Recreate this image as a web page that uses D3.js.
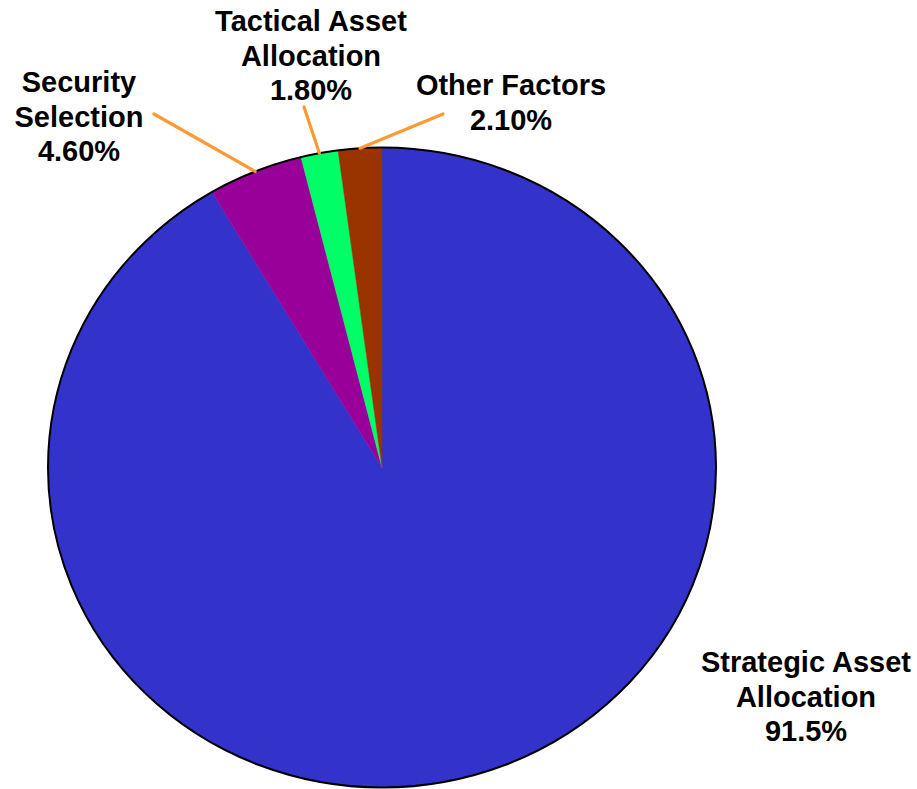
<!DOCTYPE html>
<html>
<head>
<meta charset="utf-8">
<script src="https://cdn.jsdelivr.net/npm/d3@7/dist/d3.min.js"></script>
<style>
  html, body { margin: 0; padding: 0; background: #fff; }
  svg { display: block; }
</style>
</head>
<body>
<script>
const categories = ["Strategic Asset Allocation", "Security Selection", "Tactical Asset Allocation", "Other Factors"];
const values = [91.5, 4.6, 1.8, 2.1];
const valueLabels = ["91.5%", "4.60%", "1.80%", "2.10%"];
const labelLines = [["Strategic Asset", "Allocation"], ["Security", "Selection"], ["Tactical Asset", "Allocation"], ["Other Factors"]];
const colors = ["#3333CC", "#990099", "#00FF66", "#993300"];

const W = 917, H = 789;
const cx = 382, cy = 467.5, rx = 334, ry = 320;
const fontSize = 29, lineH = 34.5;

// label anchor (centre x, first baseline y) and leader-line outer end
const labelPos = [
  { x: 806, y: 672, leader: null },
  { x: 79, y: 92, leader: [154, 114] },
  { x: 311, y: 31, leader: [304, 107] },
  { x: 511, y: 95, leader: [443, 114] }
];

const svg = d3.select("body").append("svg").attr("width", W).attr("height", H);

const pie = d3.pie().sort(null).value(d => d.v);
const data = categories.map((c, i) => ({ c, v: values[i], i }));
const arcs = pie(data);
const arc = d3.arc().innerRadius(0).outerRadius(ry);

const g = svg.append("g").attr("transform", `translate(${cx},${cy}) scale(${rx / ry},1)`);
g.selectAll("path.slice").data(arcs).enter().append("path")
  .attr("class", "slice")
  .attr("d", arc)
  .attr("fill", d => colors[d.data.i])
  .attr("stroke", d => colors[d.data.i])
  .attr("stroke-width", 0.5)
  .attr("vector-effect", "non-scaling-stroke");

svg.append("ellipse")
  .attr("cx", cx).attr("cy", cy).attr("rx", rx).attr("ry", ry)
  .attr("fill", "none").attr("stroke", "#000").attr("stroke-width", 2);

// leader lines
arcs.forEach(d => {
  const lp = labelPos[d.data.i];
  if (!lp.leader) return;
  const a = (d.startAngle + d.endAngle) / 2;
  const px = cx + rx * Math.sin(a), py = cy - ry * Math.cos(a);
  svg.append("line")
    .attr("x1", lp.leader[0]).attr("y1", lp.leader[1])
    .attr("x2", px).attr("y2", py)
    .attr("stroke", "#FF9933").attr("stroke-width", 3.2).attr("stroke-linecap", "round");
});

// labels
arcs.forEach(d => {
  const i = d.data.i;
  const lp = labelPos[i];
  const lines = labelLines[i].concat([valueLabels[i]]);
  const t = svg.append("text")
    .attr("text-anchor", "middle")
    .attr("font-family", "Liberation Sans, Arimo, Arial, sans-serif")
    .attr("font-weight", "bold")
    .attr("font-size", fontSize)
    .attr("fill", "#000");
  lines.forEach((ln, k) => {
    t.append("tspan").attr("x", lp.x).attr("y", lp.y + k * lineH).text(ln);
  });
});
</script>
</body>
</html>
